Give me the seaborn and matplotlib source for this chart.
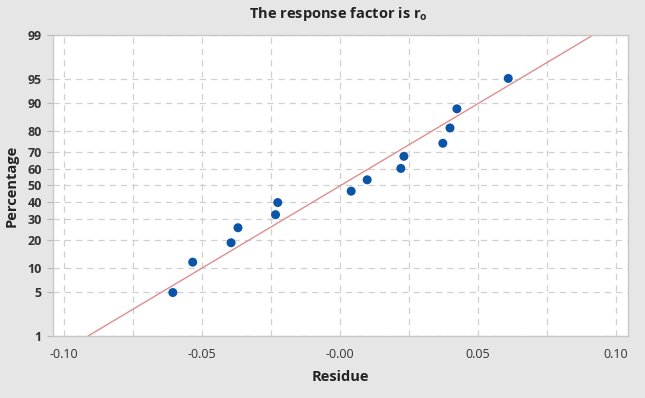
import numpy as np
import pandas as pd
import seaborn as sns
import matplotlib
matplotlib.use('Agg')
import matplotlib.pyplot as plt
from statistics import NormalDist

# Residuos (ordenados)
v_residuos = [-0.0605, -0.0533, -0.0394, -0.0369, -0.0233, -0.0225, 0.0041,
              0.0099, 0.0221, 0.0232, 0.0373, 0.0399, 0.0424, 0.0610]
# Percentagens (posicoes de plotagem)
v_percent = [4.9, 11.8, 18.8, 25.7, 32.6, 39.6, 46.5,
             53.5, 60.4, 67.4, 74.3, 81.3, 88.2, 95.1]

v_yticks = [1, 5, 10, 20, 30, 40, 50, 60, 70, 80, 90, 95, 99]
v_xticks = [-0.10, -0.05, 0.0, 0.05, 0.10]
v_xticklabels = ['-0.10', '-0.05', '-0.00', '0.05', '0.10']

df = pd.DataFrame({'Residue': v_residuos, 'Percentage': v_percent})

# Linha ajustada (media e desvio padrao dos residuos)
v_media = np.mean(v_residuos)
v_desvio = np.std(v_residuos, ddof=1)
v_nd = NormalDist()
v_p_linha = [1, 99]
v_x_linha = [v_media + v_desvio * v_nd.inv_cdf(p / 100) for p in v_p_linha]
df_linha = pd.DataFrame({'Residue': v_x_linha, 'Percentage': v_p_linha})

f_ppf = np.vectorize(lambda v: v_nd.inv_cdf(v / 100), otypes=[float])
f_cdf = np.vectorize(lambda v: v_nd.cdf(v) * 100, otypes=[float])


def f_forward(p):
    p = np.clip(np.asarray(p, dtype=float), 1e-6, 100 - 1e-6)
    return f_ppf(p)


def f_inverse(z):
    return f_cdf(np.asarray(z, dtype=float))


sns.set_style('white')
plt.rcParams['font.family'] = ['Open Sans', 'DejaVu Sans']

fig = plt.figure(figsize=(6.45, 3.98), dpi=100, facecolor='#e6e6e6')
ax = fig.add_axes([0.0822, 0.1558, 0.8907, 0.7563])
ax.set_facecolor('white')

ax.set_yscale('function', functions=(f_forward, f_inverse))

sns.lineplot(data=df_linha, x='Residue', y='Percentage', ax=ax,
             color='#dc8f8f', linewidth=1.0, zorder=2)
sns.scatterplot(data=df, x='Residue', y='Percentage', ax=ax,
                color='#0b55a8', s=42, edgecolor='none', zorder=3)

ax.set_xlim(-0.1039, 0.1042)
ax.set_ylim(1, 99)

ax.set_yticks(v_yticks)
ax.set_yticklabels([str(t) for t in v_yticks], fontweight='bold', color='#333333')
ax.set_yticks([], minor=True)
ax.set_xticks(v_xticks)
ax.set_xticklabels(v_xticklabels, color='#333333')
ax.set_xticks([-0.075, -0.025, 0.025, 0.075], minor=True)

ax.tick_params(axis='y', which='major', length=4, width=0.8, color='#bbbbbb',
               labelsize=9, pad=4, left=True)
ax.tick_params(axis='x', which='both', length=0, labelsize=9, pad=9)

ax.grid(True, which='both', axis='x', linestyle=(0, (5, 4)), color='#d0d0d0', linewidth=0.9)
ax.grid(True, which='major', axis='y', linestyle=(0, (5, 4)), color='#d0d0d0', linewidth=0.9)
ax.set_axisbelow(True)

for s in ax.spines.values():
    s.set_visible(True)
    s.set_color('#c8c8c8')
    s.set_linewidth(1.0)

ax.set_xlabel('Residue', fontsize=10.5, fontweight='bold', color='#222222', labelpad=6)
ax.set_ylabel('Percentage', fontsize=10.5, fontweight='bold', color='#222222', labelpad=6)
fig.text(0.525, 0.965, r'The response factor is r$_\mathregular{o}$', ha='center', va='center',
         fontsize=10.5, fontweight='bold', color='#222222')

fig.savefig('out.png', dpi=100, facecolor=fig.get_facecolor())
